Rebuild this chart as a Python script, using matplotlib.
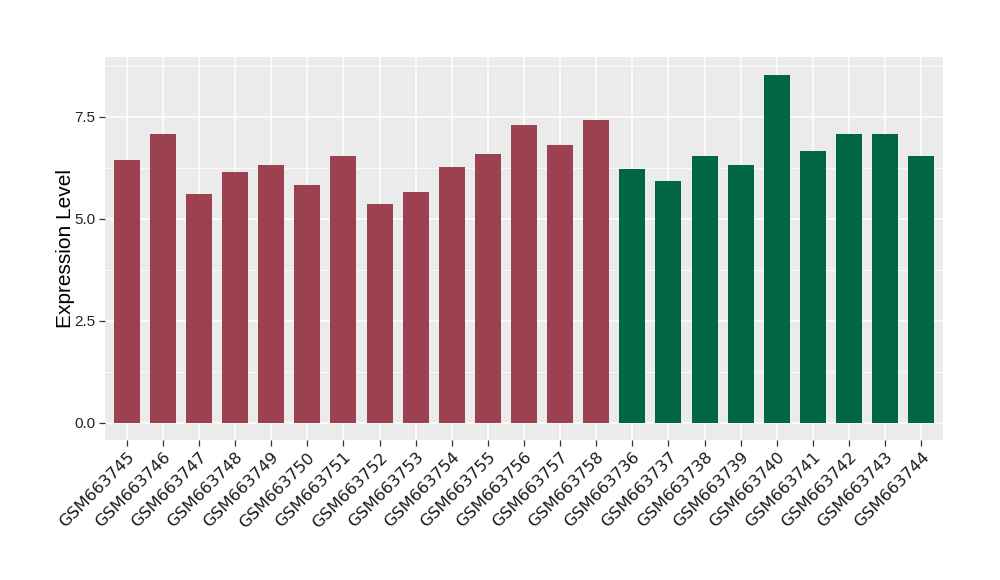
import numpy as np
import matplotlib
matplotlib.use("Agg")
import matplotlib.pyplot as plt
from matplotlib.ticker import MultipleLocator

samples = ['GSM663745', 'GSM663746', 'GSM663747', 'GSM663748', 'GSM663749',
           'GSM663750', 'GSM663751', 'GSM663752', 'GSM663753', 'GSM663754',
           'GSM663755', 'GSM663756', 'GSM663757', 'GSM663758', 'GSM663736',
           'GSM663737', 'GSM663738', 'GSM663739', 'GSM663740', 'GSM663741',
           'GSM663742', 'GSM663743', 'GSM663744']
expr = [6.45, 7.07, 5.60, 6.14, 6.31, 5.84, 6.53, 5.37, 5.67, 6.28,
        6.60, 7.31, 6.80, 7.43, 6.23, 5.94, 6.55, 6.33, 8.54, 6.67,
        7.07, 7.09, 6.53]
groups = ['a'] * 14 + ['b'] * 9
group_colors = {'a': '#9B4150', 'b': '#006644'}

plt.rcParams['font.family'] = ['Liberation Sans', 'DejaVu Sans']

fig = plt.figure(figsize=(10, 5.8), dpi=100)
ax = fig.add_axes([0.105, 0.2414, 0.838, 0.660])
ax.set_facecolor('#EBEBEB')

x = np.arange(len(samples))
ax.bar(x, expr, width=0.72, color=[group_colors[g] for g in groups], zorder=3)

ax.set_xlim(-0.6, len(samples) - 1 + 0.6)
ymax = max(expr)
ax.set_ylim(-0.05 * ymax, ymax * 1.05)

ax.yaxis.set_major_locator(MultipleLocator(2.5))
ax.yaxis.set_minor_locator(MultipleLocator(1.25))
ax.grid(which='major', color='white', linewidth=1.1, zorder=1)
ax.grid(which='minor', axis='y', color='white', linewidth=0.55, zorder=1)
ax.tick_params(axis='y', which='minor', length=0)
for s in ax.spines.values():
    s.set_visible(False)

ax.set_xticks(x)
ax.set_xticklabels(samples, rotation=45, ha='right', rotation_mode='anchor',
                   fontsize=11.8, family='DejaVu Sans', color='#1A1A1A')
ax.set_yticks([0, 2.5, 5.0, 7.5])
ax.set_yticklabels(['0.0', '2.5', '5.0', '7.5'], fontsize=11, color='#222222')
ax.tick_params(axis='both', which='major', length=4, width=0.9, color='#333333', pad=3)
ax.set_ylabel('Expression Level', fontsize=15)
ax.yaxis.set_label_coords(-0.036, 0.5)

fig.savefig('out.png', dpi=100)
